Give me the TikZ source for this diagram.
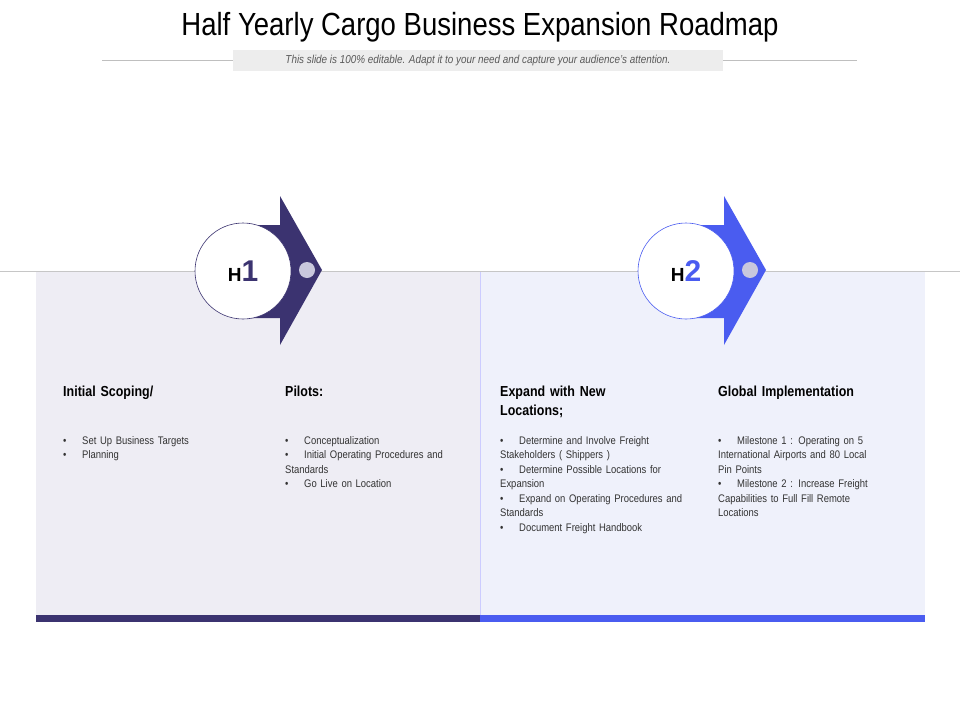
\documentclass[tikz,border=0pt]{standalone}
\usepackage{fontspec}
\setmainfont{Liberation Sans}
\newfontfamily\condf{Liberation Sans}[FakeStretch=0.86]
\definecolor{dk}{HTML}{3B3370}
\definecolor{bl}{HTML}{4A5CF0}
\definecolor{pl}{HTML}{EEEDF4}
\definecolor{pr}{HTML}{EFF1FB}
\definecolor{dot}{HTML}{C9C8DD}
\tikzset{x=1pt,y=-1pt,
 head/.style={anchor=north west,align=left,font=\condf\fontsize{14.5}{19}\selectfont\bfseries,text width=170pt,inner sep=0pt},
 blist/.style={anchor=north west,align=left,font=\condf\fontsize{11}{14.5}\selectfont,text=black!80,text width=220pt,inner sep=0pt},
 circ/.style={circle,draw=#1,line width=0.6pt,fill=white,minimum size=96pt,inner sep=0pt}}
\newcommand{\bit}[1]{\hangindent=19pt\hangafter=1\makebox[19pt][l]{\textbullet}#1\par}
\begin{document}
\begin{tikzpicture}
\useasboundingbox (0,0) rectangle (960,720);
\fill[white] (0,0) rectangle (960,720);
\node[font=\condf\fontsize{32}{34}\selectfont] (title) at (480,27) {Half Yearly Cargo Business Expansion Roadmap};
\draw[gray!50] (102,60) -- (857,60);
\node[fill=black!7,minimum width=490pt,minimum height=21pt,inner sep=0pt,font=\condf\fontsize{11.5}{12}\selectfont\itshape,text=black!65] (sub) at (478,60.5) {This slide is 100\% editable. Adapt it to your need and capture your audience’s attention.};
\fill[pl] (36,271) rectangle (480,615);
\fill[pr] (481,271) rectangle (925,615);
\draw[blue!20] (480.5,271) -- (480.5,615);
\draw[gray!45] (0,271) -- (960,271);
\fill[dk] (36,615) rectangle (480,622);
\fill[bl] (480,615) rectangle (925,622);
% H1
\fill[dk] (243,225) -- (280,225) -- (280,196) -- (322,270) -- (280,345) -- (280,318) -- (243,318) -- cycle;
\node[circ=dk] (c1) at (243,271) {\fontsize{19}{22}\selectfont\bfseries H\textcolor{dk}{\fontsize{30}{30}\selectfont 1}};
\fill[dot] (307,270) circle (8);
% H2
\fill[bl] (686,225) -- (724,225) -- (724,196) -- (766,270) -- (724,345) -- (724,318) -- (686,318) -- cycle;
\node[circ=bl] (c2) at (686,271) {\fontsize{19}{22}\selectfont\bfseries H\textcolor{bl}{\fontsize{30}{30}\selectfont 2}};
\fill[dot] (750,270) circle (8);
% text
\node[head] (h1) at (63,386) {Initial Scoping/};
\node[head] (h2) at (285,386) {Pilots:};
\node[head] (h3) at (500,386) {Expand with New\\Locations;};
\node[head] (h4) at (718,386) {Global Implementation};
\node[blist] (b1) at (63,436) {\bit{Set Up Business Targets}\bit{Planning}};
\node[blist] (b2) at (285,436) {\bit{Conceptualization}\bit{Initial Operating Procedures and\\Standards}\bit{Go Live on Location}};
\node[blist] (b3) at (500,436) {\bit{Determine and Involve Freight\\Stakeholders ( Shippers )}\bit{Determine Possible Locations for\\Expansion}\bit{Expand on Operating Procedures and\\Standards}\bit{Document Freight Handbook}};
\node[blist] (b4) at (718,436) {\bit{Milestone 1 : Operating on 5\\International Airports and 80 Local\\Pin Points}\bit{Milestone 2 : Increase Freight\\Capabilities to Full Fill Remote\\Locations}};
\end{tikzpicture}
\end{document}
